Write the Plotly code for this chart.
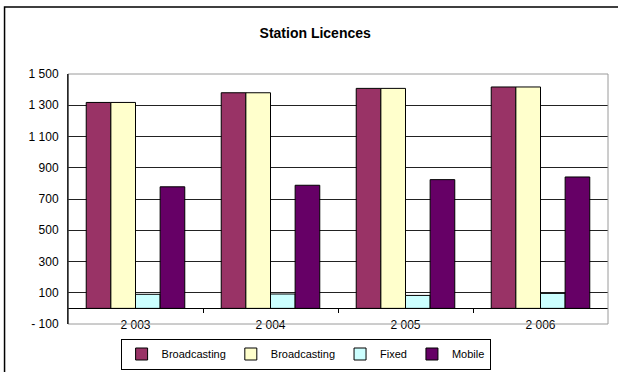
import plotly.graph_objects as go

# Data
years = ["2 003", "2 004", "2 005", "2 006"]
broadcasting_a = [1318, 1380, 1408, 1417]
broadcasting_b = [1318, 1380, 1408, 1417]
fixed = [90, 92, 83, 96]
mobile = [778, 788, 824, 841]

y_ticks = [-100, 100, 300, 500, 700, 900, 1100, 1300, 1500]
y_ticktext = ["- 100", "100", "300", "500", "700", "900", "1 100", "1 300", "1 500"]

x_pos = list(range(len(years)))

series = [
    ("Broadcasting", broadcasting_a, "#993366"),
    ("Broadcasting", broadcasting_b, "#FFFFCC"),
    ("Fixed", fixed, "#CCFFFF"),
    ("Mobile", mobile, "#660066"),
]

fig = go.Figure()
for name, vals, color in series:
    fig.add_trace(go.Bar(
        x=x_pos, y=vals, name=name,
        marker=dict(color=color, line=dict(color="black", width=1)),
    ))

# hidden trace so the overlay axis (zero line with ticks) is drawn
fig.add_trace(go.Scatter(
    x=[0], y=[0], xaxis="x2", yaxis="y", mode="markers",
    marker=dict(opacity=0), showlegend=False, hoverinfo="skip",
))

fig.update_layout(
    width=618, height=372,
    margin=dict(l=68, r=10, t=74, b=48, autoexpand=False),
    paper_bgcolor="white", plot_bgcolor="white",
    font=dict(family="Liberation Sans, Arial", size=12, color="black"),
    title=dict(text="<b>Station Licences</b>", font=dict(size=14),
               x=0.51, xref="container", xanchor="center",
               y=0.911, yref="container", yanchor="middle"),
    barmode="group", bargap=0.27, bargroupgap=0,
    showlegend=True,
    legend=dict(orientation="h", x=0.44, xanchor="center", y=-0.12, yanchor="middle",
                bordercolor="black", borderwidth=1, font=dict(size=11),
                itemwidth=30, traceorder="normal"),
    xaxis=dict(range=[-0.5, 3.5], tickvals=x_pos, ticktext=years,
               showgrid=False, zeroline=False, showline=False, ticks="",
               anchor="free", position=0.032, automargin=False),
    xaxis2=dict(overlaying="x", range=[-0.5, 3.5], tickvals=[0.5, 1.5, 2.5],
                showticklabels=False, ticks="outside", ticklen=4, tickcolor="black",
                showline=True, linecolor="black", linewidth=1,
                showgrid=False, zeroline=False, anchor="free", position=0.064),
    yaxis=dict(range=[-100, 1500], tickvals=y_ticks, ticktext=y_ticktext,
               showgrid=True, gridcolor="#222222", gridwidth=1,
               zeroline=False, showline=True, linecolor="black", linewidth=1,
               ticks="", ticklabelstandoff=6, automargin=False),
    shapes=[
        dict(type="rect", xref="paper", yref="paper", x0=0, x1=1, y0=0, y1=1,
             line=dict(color="#9a9a9a", width=1), layer="above"),
        dict(type="line", xref="paper", yref="paper", x0=0, x1=0, y0=0, y1=1,
             line=dict(color="black", width=1), layer="above"),
        dict(type="rect", xref="paper", yref="paper", x0=-0.1175, x1=1.1, y0=-0.3, y1=1.268,
             line=dict(color="black", width=1.5), layer="above"),
    ],
)

fig.write_html("out.html", config={"displayModeBar": False},
               post_script="document.body.style.margin='0';")
